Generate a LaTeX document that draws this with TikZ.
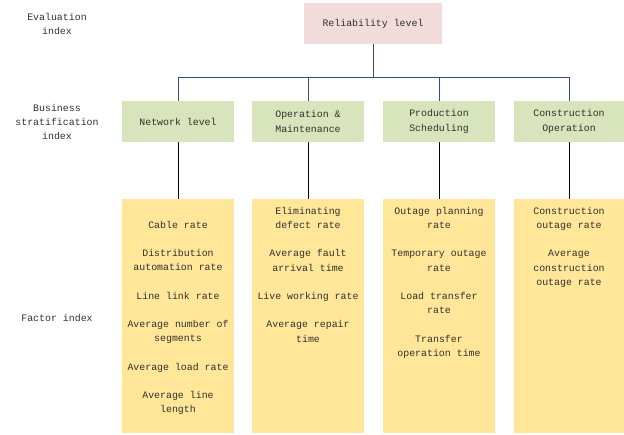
\documentclass[tikz,border=0pt]{standalone}
\usepackage{fontspec}
\setmainfont{Liberation Mono}
\definecolor{pinkfill}{HTML}{F2DCDB}
\definecolor{greenfill}{HTML}{D8E4BC}
\definecolor{yellowfill}{HTML}{FFE699}
\definecolor{navyline}{RGB}{52,78,130}
\definecolor{txt}{RGB}{50,50,45}
\begin{document}
\begin{tikzpicture}[x=1pt,y=-1pt,
  font=\fontsize{9.9}{14.2}\selectfont, text=txt,
  box/.style={inner sep=0pt, align=center, minimum height=41pt},
  evalbox/.style={box, fill=pinkfill, minimum width=138pt},
  busbox/.style={box, fill=greenfill, minimum width=112pt},
  facbox/.style={inner sep=0pt, fill=yellowfill, minimum width=112pt, minimum height=234pt},
  factxt/.style={inner sep=0pt, align=center, anchor=north},
  sidelabel/.style={inner sep=0pt, align=center},
  tree/.style={draw=navyline, line width=0.9pt},
  drop/.style={draw=black, line width=0.9pt}]
\useasboundingbox (0,0) rectangle (624,434);

% side labels
\node[sidelabel] (l1) at (57,24) {Evaluation\\index};
\node[sidelabel] (l2) at (57,122) {Business\\stratification\\index};
\node[sidelabel] (l3) at (57,317.5) {Factor index};

% top
\node[evalbox] (rel) at (373,23.5) {Reliability level};

% business level
\node[busbox] (net)  at (178,121.5) {Network level};
\node[busbox] (op)   at (308,121.5) {Operation \&\\Maintenance};
\node[busbox] (prod) at (439,121.5) {Production\\Scheduling};
\node[busbox, minimum width=110pt] (cons) at (569,121.5) {Construction\\Operation};

% factor boxes
\node[facbox] (netf)  at (178,316) {};
\node[facbox] (opf)   at (308,316) {};
\node[facbox] (prodf) at (439,316) {};
\node[facbox, minimum width=110pt] (consf) at (569,316) {};

\node[factxt] (t1) at (178,221) {Cable rate\\[14.2pt]Distribution\\automation rate\\[14.2pt]Line link rate\\[14.2pt]Average number of\\segments\\[14.2pt]Average load rate\\[14.2pt]Average line\\length};
\node[factxt] (t2) at (308,207) {Eliminating\\defect rate\\[14.2pt]Average fault\\arrival time\\[14.2pt]Live working rate\\[14.2pt]Average repair\\time};
\node[factxt] (t3) at (439,207) {Outage planning\\rate\\[14.2pt]Temporary outage\\rate\\[14.2pt]Load transfer\\rate\\[14.2pt]Transfer\\operation time};
\node[factxt] (t4) at (569,207) {Construction\\outage rate\\[14.2pt]Average\\construction\\outage rate};

% tree connectors
\coordinate (bar) at (373,77);
\draw[tree] (rel.south) -- (bar);
\draw[tree] (net.north) -- (net.north |- bar) -- (cons.north |- bar) -- (cons.north);
\draw[tree] (op.north) -- (op.north |- bar);
\draw[tree] (prod.north) -- (prod.north |- bar);

% drops
\draw[drop] (net.south) -- (netf.north);
\draw[drop] (op.south) -- (opf.north);
\draw[drop] (prod.south) -- (prodf.north);
\draw[drop] (cons.south) -- (consf.north);
\end{tikzpicture}
\end{document}
